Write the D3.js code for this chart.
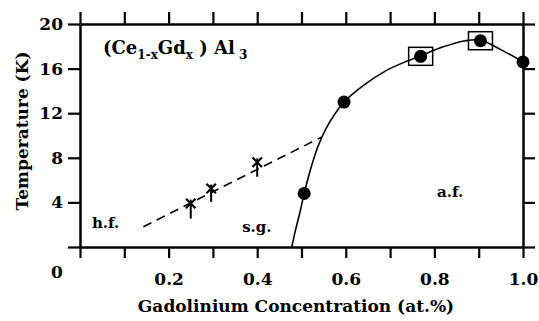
<!DOCTYPE html>
<html>
<head>
<meta charset="utf-8">
<script src="https://cdn.jsdelivr.net/npm/d3@7"></script>
<style>
  body { margin: 0; background: #fff; }
  svg text { font-family: "DejaVu Serif", serif !important; font-weight: bold; fill: #000; }
</style>
</head>
<body>
<div id="chart"></div>
<script>
// Tc of (Ce1-xGdx)Al3
const afX = [0.506, 0.596, 0.769, 0.904, 1.0];
const afT = [4.8, 13.0, 17.1, 18.5, 16.6];
const boxed = [false, false, true, true, false];

const sgX = [0.25, 0.296, 0.40];
const sgT = [3.9, 5.25, 7.6];
const sgErrDown = [1.35, 1.2, 1.3];
const sgErrUp = [0.35, 0.35, 0.35];

// phase boundary (solid) and h.f./s.g. boundary (dashed)
const boundaryX = [0.478, 0.487, 0.497, 0.506, 0.52, 0.536, 0.555, 0.575, 0.596, 0.64, 0.69, 0.74, 0.769, 0.82, 0.87, 0.904, 0.95, 1.0];
const boundaryT = [0, 1.6, 3.2, 4.8, 6.9, 8.9, 10.6, 11.9, 13.0, 14.5, 15.8, 16.7, 17.15, 17.95, 18.5, 18.55, 17.7, 16.6];
const dashX = [0.143, 0.545];
const dashT = [1.82, 9.85];

const xTicks = [0, 0.1, 0.2, 0.3, 0.4, 0.5, 0.6, 0.7, 0.8, 0.9, 1.0];
const xTickLabels = [0.2, 0.4, 0.6, 0.8, 1.0];
const yTicks = [0, 4, 8, 12, 16, 20];
const yTickLabels = [4, 8, 12, 16, 20];

const margin = { top: 24, right: 16, bottom: 74, left: 80 };
const width = 539 - margin.left - margin.right;
const height = 321 - margin.top - margin.bottom;

const svg = d3.select('#chart')
    .append('svg')
    .attr('width', 539)
    .attr('height', 321);

const g = svg.append('g')
    .attr('transform', `translate(${margin.left},${margin.top})`);

const x = d3.scaleLinear().domain([0, 1]).range([0, width]);
const y = d3.scaleLinear().domain([0, 20]).range([height, 0]);

const styleAxis = sel => {
    sel.attr('font-family', null);
    sel.select('.domain').attr('stroke', '#000').attr('stroke-width', 2.5);
    sel.selectAll('.tick line').attr('stroke', '#000').attr('stroke-width', 2.2);
    sel.selectAll('.tick text').style('font-size', '17px');
};

g.append('g')
    .call(d3.axisLeft(y).tickValues(yTicks).tickSize(12).tickSizeOuter(0).tickPadding(5)
        .tickFormat(d => yTickLabels.includes(d) ? d : ''))
    .call(styleAxis);

g.append('g')
    .attr('transform', `translate(${width},0)`)
    .call(d3.axisRight(y).tickValues(yTicks).tickSize(12).tickSizeOuter(0).tickFormat(''))
    .call(styleAxis);

g.append('g')
    .call(d3.axisTop(x).tickValues(xTicks).tickSize(12).tickSizeOuter(0).tickFormat(''))
    .call(styleAxis);

g.append('g')
    .attr('transform', `translate(0,${height})`)
    .call(d3.axisBottom(x).tickValues(xTicks).tickSize(11).tickSizeOuter(0).tickPadding(15)
        .tickFormat(d => xTickLabels.some(v => Math.abs(v - d) < 1e-9) ? d3.format('.1f')(d) : ''))
    .call(styleAxis);

// shared origin label
g.append('text')
    .attr('x', -23)
    .attr('y', height + 31)
    .attr('text-anchor', 'middle')
    .style('font-size', '17px')
    .text('0');

// boundaries
const line = d3.line()
    .x(d => x(d[0]))
    .y(d => y(d[1]))
    .curve(d3.curveCatmullRom.alpha(0.5));

g.append('path')
    .datum(boundaryX.map((v, i) => [v, boundaryT[i]]))
    .attr('d', line)
    .attr('fill', 'none')
    .attr('stroke', '#000')
    .attr('stroke-width', 1.6);

g.append('path')
    .datum(dashX.map((v, i) => [v, dashT[i]]))
    .attr('d', d3.line().x(d => x(d[0])).y(d => y(d[1])))
    .attr('fill', 'none')
    .attr('stroke', '#000')
    .attr('stroke-width', 1.6)
    .attr('stroke-dasharray', '9,6');

// a.f. points
const af = afX.map((v, i) => ({ x: v, t: afT[i], box: boxed[i] }));

g.selectAll('.box')
    .data(af.filter(d => d.box))
    .enter().append('rect')
    .attr('class', 'box')
    .attr('x', d => x(d.x) - 12)
    .attr('y', d => y(d.t) - 9)
    .attr('width', 24)
    .attr('height', 18)
    .attr('fill', 'none')
    .attr('stroke', '#000')
    .attr('stroke-width', 1.5);

g.selectAll('.dot')
    .data(af)
    .enter().append('circle')
    .attr('class', 'dot')
    .attr('cx', d => x(d.x))
    .attr('cy', d => y(d.t))
    .attr('r', 6.5)
    .attr('fill', '#000');

// s.g. points with error bars
const sg = sgX.map((v, i) => ({ x: v, t: sgT[i], lo: sgErrDown[i], hi: sgErrUp[i] }));

g.selectAll('.err')
    .data(sg)
    .enter().append('line')
    .attr('class', 'err')
    .attr('x1', d => x(d.x))
    .attr('x2', d => x(d.x))
    .attr('y1', d => y(d.t + d.hi))
    .attr('y2', d => y(d.t - d.lo))
    .attr('stroke', '#000')
    .attr('stroke-width', 2);

g.selectAll('.star')
    .data(sg)
    .enter().append('path')
    .attr('class', 'star')
    .attr('transform', d => `translate(${x(d.x)},${y(d.t)})`)
    .attr('d', d3.symbol().type(d3.symbolTimes).size(60))
    .attr('fill', 'none')
    .attr('stroke', '#000')
    .attr('stroke-width', 2.2);

// region labels
const regions = [
    { label: 'h.f.', x: 0.027, t: 1.7 },
    { label: 's.g.', x: 0.366, t: 1.35 },
    { label: 'a.f.', x: 0.806, t: 4.5 }
];
g.selectAll('.region')
    .data(regions)
    .enter().append('text')
    .attr('class', 'region')
    .attr('x', d => x(d.x))
    .attr('y', d => y(d.t))
    .style('font-size', '15px')
    .text(d => d.label);

// compound label
const title = g.append('text')
    .attr('x', 23)
    .attr('y', 30)
    .style('font-size', '18px');
title.append('tspan').text('(Ce');
title.append('tspan').attr('dy', 5).style('font-size', '12px').text('1-x');
title.append('tspan').attr('dy', -5).text('Gd');
title.append('tspan').attr('dy', 5).style('font-size', '12px').text('x');
title.append('tspan').attr('dy', -5).text(' ) Al');
title.append('tspan').attr('dy', 5).style('font-size', '12px').text(' 3');

// axis titles
svg.append('text')
    .attr('x', 296)
    .attr('y', 312)
    .attr('text-anchor', 'middle')
    .style('font-size', '17px')
    .text('Gadolinium Concentration  (at.%)');

svg.append('text')
    .attr('transform', `translate(28,131) rotate(-90)`)
    .attr('text-anchor', 'middle')
    .style('font-size', '17px')
    .text('Temperature (K)');
</script>
</body>
</html>
